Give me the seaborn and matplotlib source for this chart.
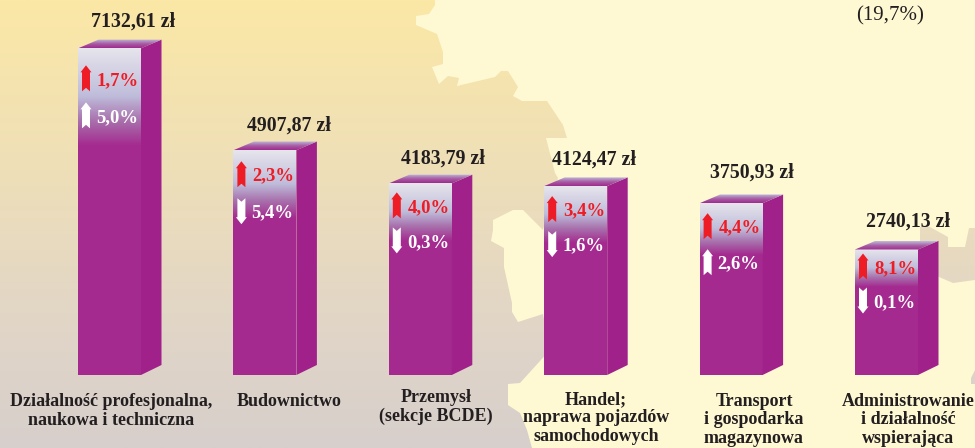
import numpy as np
import matplotlib
matplotlib.use("Agg")
import matplotlib.pyplot as plt
from matplotlib.colors import LinearSegmentedColormap
from matplotlib.patches import Polygon
import seaborn as sns

# Data
categories = ["Działalność profesjonalna,\nnaukowa i techniczna", "Budownictwo",
              "Przemysł\n(sekcje BCDE)", "Handel;\nnaprawa pojazdów\nsamochodowych",
              "Transport\ni gospodarka\nmagazynowa", "Administrowanie\ni działalność\nwspierająca"]
wages = [7132.61, 4907.87, 4183.79, 4124.47, 3750.93, 2740.13]
red_change = ["1,7%", "2,3%", "4,0%", "3,4%", "4,4%", "8,1%"]
white_change = ["5,0%", "5,4%", "0,3%", "1,6%", "2,6%", "0,1%"]
white_up = [True, False, False, False, True, False]

# Layout, in pixels of the 975x448 picture
W, H = 975, 448
bar_step, bar_left, bar_w, base_y = 155.4, 78, 63, 375
px_per_unit = 0.0458
side_w, side_h = 20.5, 8.7
value_dx = [23.5, 24.5, 22.5, 18.5, 21, 21]
value_gap = [18, 16, 16, 18, 22, 19]
red_row = [31, 25, 23, 24, 24, 18]
white_row = [68, 62, 58, 59, 60, 52]
label_x = [111, 289, 436, 596, 754, 908]
label_y = [411, 401, 407, 418, 420, 420]

map_main = [(0, 0), (435, 0), (435, 5), (429, 14), (416, 16), (416, 25), (437, 34), (443, 52),
            (443, 64), (432, 67), (439, 84), (448, 76), (459, 78), (457, 86), (495, 77), (501, 71),
            (508, 71), (518, 87), (513, 96), (522, 101), (547, 101), (563, 125), (567, 138),
            (546, 138), (555, 173), (558, 178), (550, 205), (543, 230), (523, 210), (513, 210),
            (493, 220), (493, 230), (491, 241), (504, 248), (504, 267), (512, 303), (512, 312),
            (518, 322), (543, 314), (550, 350), (520, 383), (508, 384), (508, 405), (520, 413),
            (527, 430), (532, 448), (0, 448)]
map_right = [(920, 227), (930, 227), (948, 237), (948, 247), (965, 247), (969, 228), (975, 228),
             (975, 280), (953, 283), (939, 277), (920, 260)]
map_corner = [(975, 370), (971, 378), (971, 384), (975, 384)]

sns.set_theme(style="white")
plt.rcParams["font.family"] = ["Liberation Serif", "DejaVu Serif"]

fig = plt.figure(figsize=(W / 100, H / 100), dpi=100, facecolor="#FEF9D3")

# Background map, with the pale vertical gradient
bg = fig.add_axes([0, 0, 1, 1])
bg.set_axis_off()
map_cmap = LinearSegmentedColormap.from_list(
    "map", [(0, "#FBE8A6"), (0.38, "#EEDFB8"), (0.7, "#E2D6C6"), (1, "#D7CFCC")])
for outline in [map_main, map_right, map_corner]:
    im = bg.imshow(np.linspace(0, 1, 256).reshape(-1, 1), cmap=map_cmap, aspect="auto",
                   extent=(0, W, H, 0), vmin=0, vmax=1)
    im.set_clip_path(Polygon(outline, transform=bg.transData))
bg.set_xlim(0, W)
bg.set_ylim(H, 0)
px = bg.transData

# Bars
ax = fig.add_axes([0, 0, 1, 1])
ax.patch.set_alpha(0)
sns.barplot(x=categories, y=wages, color="#A42A8F", saturation=1, width=bar_w / bar_step,
            linewidth=0, ax=ax)
x_first = bar_left + bar_w / 2
x_lim = (-x_first / bar_step, (W - x_first) / bar_step)
y_lim = (-(H - base_y) / px_per_unit, base_y / px_per_unit)
ax.set_axis_off()

front_cmap = LinearSegmentedColormap.from_list(
    "front", [(0, "#E7E5EC"), (0.5, "#BEBCDA"), (0.75, "#A870AC"), (1, "#A42A8F")])
top_cmap = LinearSegmentedColormap.from_list("top", ["#BFBBDB", "#A85FA5", "#A02C8E"])
dx, dy = side_w / bar_step, side_h / px_per_unit

for bar in ax.patches:
    x0, x1, v = bar.get_x(), bar.get_x() + bar.get_width(), bar.get_height()
    ax.fill([x1, x1 + dx, x1 + dx, x1], [0, 1.15 * dy, v + dy, v], color="#A02189", lw=0, zorder=3)
    ax.imshow(np.linspace(0, 1, 128).reshape(-1, 1), cmap=front_cmap, aspect="auto", zorder=3,
              extent=(x0, x1, v * 0.7, v), interpolation="bilinear")
    top = ax.imshow(np.linspace(0, 1, 32).reshape(-1, 1), cmap=top_cmap, aspect="auto", zorder=3,
                    extent=(x0, x1 + dx, v, v + dy), interpolation="bilinear")
    top.set_clip_path(Polygon([(x0, v), (x1, v), (x1 + dx, v + dy), (x0 + dx, v + dy)],
                              transform=ax.transData))
ax.set_xlim(*x_lim)
ax.set_ylim(*y_lim)


def arrow(cx, cy, up, color):
    # notched block arrow, 26 px tall
    s = -1 if up else 1
    pts = [(cx, cy + s * 13), (cx - 5.5, cy + s * 6), (cx - 4, cy + s * 6), (cx - 4, cy - s * 13),
           (cx, cy - s * 9.5), (cx + 4, cy - s * 13), (cx + 4, cy + s * 6), (cx + 5.5, cy + s * 6)]
    ax.add_patch(Polygon(pts, closed=True, fc=color, ec="none", transform=px, zorder=5))


dark, red = "#231F20", "#EE1C25"
for i, v in enumerate(wages):
    left = bar_left + i * bar_step
    top_y = base_y - v * px_per_unit
    ax.text(left + bar_w / 2 + value_dx[i], top_y - side_h - value_gap[i],
            f"{v:.2f}".replace(".", ",") + " zł", transform=px, ha="center", va="center",
            fontsize=14.3, fontweight="bold", color=dark, zorder=6)
    arrow(left + 8, top_y + red_row[i] - 1, True, red)
    ax.text(left + 19, top_y + red_row[i] + 1, red_change[i], transform=px, ha="left", va="center",
            fontsize=13.4, fontweight="bold", color=red, zorder=6)
    arrow(left + 8, top_y + white_row[i] - 1, white_up[i], "white")
    ax.text(left + 18, top_y + white_row[i] + 1, white_change[i], transform=px, ha="left", va="center",
            fontsize=13.4, fontweight="bold", color="white", zorder=6)
    ax.text(label_x[i], label_y[i], categories[i], transform=px, ha="center", va="center",
            fontsize=13, fontweight="bold", color=dark, linespacing=1.1, zorder=6)

ax.text(890, 16, "(19,7%)", transform=px, ha="center", va="center", fontsize=15, color=dark, zorder=6)

fig.savefig("out.png", dpi=100, facecolor=fig.get_facecolor())
